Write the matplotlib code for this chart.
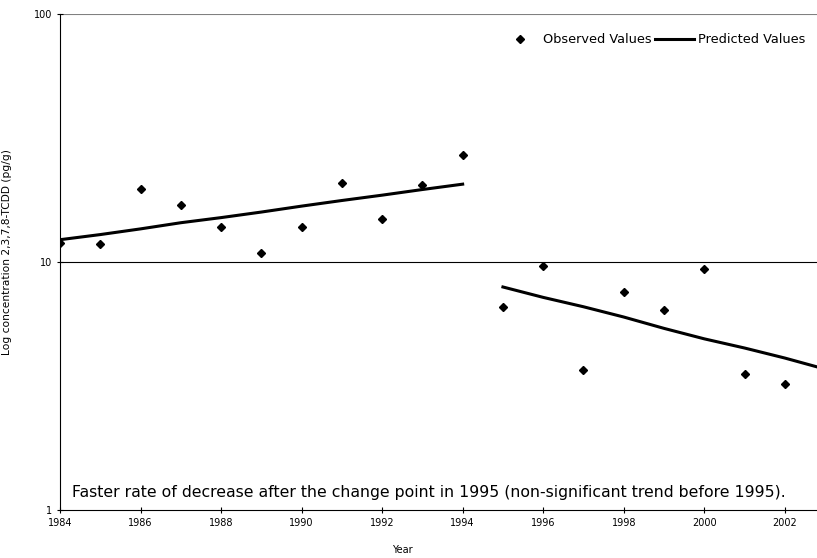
import numpy as np
import matplotlib
matplotlib.use("Agg")
import matplotlib.pyplot as plt

# observed values (pg/g)
years = [1984, 1985, 1986, 1987, 1988, 1989, 1990, 1991, 1992, 1993, 1994,
         1995, 1996, 1997, 1998, 1999, 2000, 2001, 2002]
observed = [11.9, 11.8, 19.7, 17.0, 13.8, 10.9, 13.8, 20.8, 14.9, 20.4, 27.0,
            6.6, 9.6, 3.67, 7.6, 6.4, 9.4, 3.54, 3.22]

# predicted values, before and after the change point
pred_years_1 = [1984, 1985, 1986, 1987, 1988, 1989, 1990, 1991, 1992, 1993, 1994]
pred_vals_1 = [12.3, 12.9, 13.6, 14.4, 15.1, 15.9, 16.8, 17.7, 18.6, 19.6, 20.6]
pred_years_2 = [1995, 1996, 1997, 1998, 1999, 2000, 2001, 2002, 2003]
pred_vals_2 = [7.93, 7.2, 6.6, 6.0, 5.4, 4.9, 4.5, 4.1, 3.7]

xticks = [1984, 1986, 1988, 1990, 1992, 1994, 1996, 1998, 2000, 2002]
note = ("Faster rate of decrease after the change point in 1995 "
        "(non-significant trend before 1995).")

plt.rcParams['font.family'] = ['DejaVu Sans']

fig = plt.figure(figsize=(8.17, 5.58), dpi=100)
ax = fig.add_axes([60 / 817, 48 / 558, 757 / 817, 496 / 558])

ax.plot(years, observed, linestyle='none', marker='D', markersize=4,
        color='black', label='Observed Values', zorder=3)
ax.plot(pred_years_1, pred_vals_1, color='black', linewidth=2.2,
        label='Predicted Values', zorder=2)
ax.plot(pred_years_2, pred_vals_2, color='black', linewidth=2.2, zorder=2)

ax.set_yscale('log')
ax.set_ylim(1, 100)
ax.set_xlim(1984, 2002.8)
ax.set_yticks([1, 10, 100])
ax.set_yticklabels(['1', '10', '100'])
ax.yaxis.set_minor_locator(matplotlib.ticker.NullLocator())
ax.set_xticks(xticks)
ax.set_xticklabels([str(x) for x in xticks])
ax.tick_params(labelsize=7, length=4, width=0.8, direction='inout')

# gridlines at decades
for v in [10, 100]:
    ax.axhline(v, color='#808080' if v == 100 else 'black', linewidth=0.8, zorder=1)

for s in ['top', 'right']:
    ax.spines[s].set_visible(False)
ax.spines['left'].set_linewidth(0.8)
ax.spines['bottom'].set_linewidth(0.8)

ax.set_ylabel('Log concentration 2,3,7,8-TCDD (pg/g)', fontsize=7.7)
ax.yaxis.set_label_coords(-0.063, 0.52)
ax.set_xlabel('Year', fontsize=7)
ax.xaxis.set_label_coords(0.452, -0.07)

ax.text(72 / 817, 1 - 493 / 558, note, transform=fig.transFigure, fontsize=11.3,
        va='center', ha='left')

ax.legend(loc='upper right', ncol=2, frameon=False, fontsize=9.3,
          bbox_to_anchor=(1.0, 0.985), handlelength=3.0, columnspacing=0.3,
          handletextpad=0.3, markerscale=1)

fig.savefig('out.png', dpi=100)
